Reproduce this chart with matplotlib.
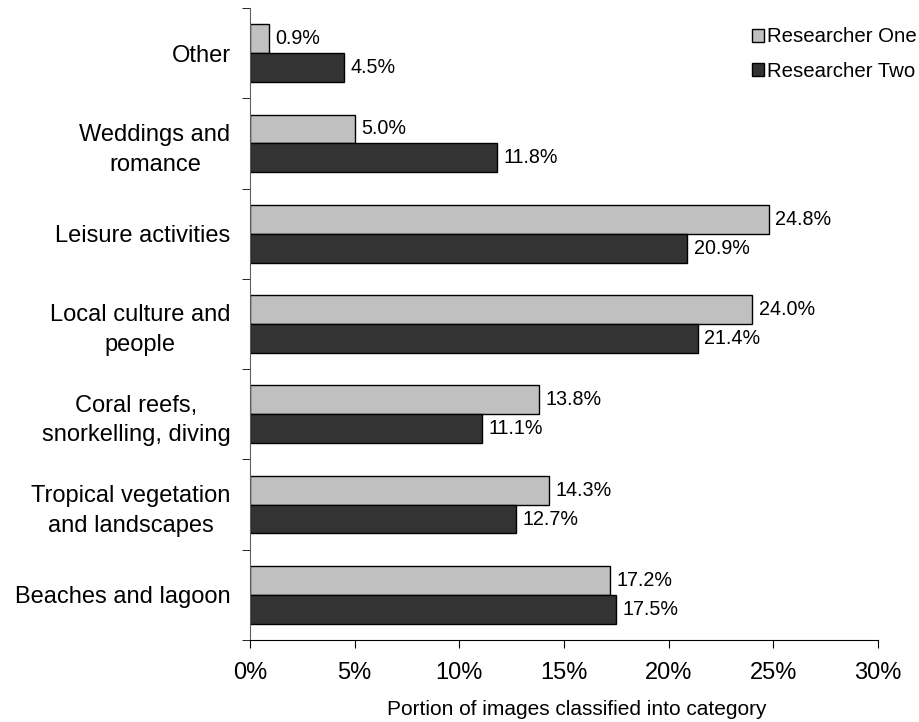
import matplotlib.pyplot as plt
import numpy as np

plt.rcParams['font.family'] = ['Liberation Sans', 'DejaVu Sans']

categories = ["Other", "Weddings and\nromance", "Leisure activities",
              "Local culture and\npeople", "Coral reefs,\nsnorkelling, diving",
              "Tropical vegetation\nand landscapes", "Beaches and lagoon"]
researcher_one = [0.9, 5.0, 24.8, 24.0, 13.8, 14.3, 17.2]
researcher_two = [4.5, 11.8, 20.9, 21.4, 11.1, 12.7, 17.5]
xticks = [0, 5, 10, 15, 20, 25, 30]

fig = plt.figure(figsize=(9.2, 7.22), dpi=100)
ax = fig.add_axes([0.2717, 0.1136, 0.6826, 0.8753])

n = len(categories)
y = np.arange(n)[::-1]  # top category at top
h = 0.32

b1 = ax.barh(y + h / 2, researcher_one, height=h, color='#C0C0C0',
             edgecolor='black', linewidth=1, label='Researcher One')
b2 = ax.barh(y - h / 2, researcher_two, height=h, color='#333333',
             edgecolor='black', linewidth=1, label='Researcher Two')

for bars, vals in ((b1, researcher_one), (b2, researcher_two)):
    for bar, v in zip(bars, vals):
        ax.annotate(f"{v:.1f}%", (bar.get_width(), bar.get_y() + bar.get_height() / 2),
                    xytext=(4.5, 0), textcoords='offset points',
                    va='center', ha='left', fontsize=14.2)

ax.set_xlim(0, 30)
ax.set_ylim(-0.5, n - 0.5)
ax.set_xticks(xticks)
ax.set_xticklabels([f"{t}%" for t in xticks], fontsize=17)
ax.tick_params(axis='x', direction='out', length=6, pad=10)

# category labels at bar centres, tick marks at category boundaries
ax.set_yticks(y)
ax.set_yticklabels(categories, fontsize=17, ha='right', multialignment='center',
                   linespacing=1.45)
ax.tick_params(axis='y', length=0, pad=14)
ax.set_yticks(np.arange(n + 1) - 0.5, minor=True)
ax.tick_params(axis='y', which='minor', direction='out', length=6)

ax.spines['top'].set_visible(False)
ax.spines['right'].set_visible(False)
ax.spines['left'].set_color('#606060')

ax.set_xlabel("Portion of images classified into category", fontsize=15)
ax.xaxis.set_label_coords(0.521, -0.095)

fig.legend(loc='upper left', bbox_to_anchor=(0.817, 0.962), frameon=False,
           fontsize=14.7, handlelength=0.6, handleheight=0.6, handletextpad=0.15,
           labelspacing=0.75, borderaxespad=0, borderpad=0)

fig.savefig("out.png", dpi=100)
